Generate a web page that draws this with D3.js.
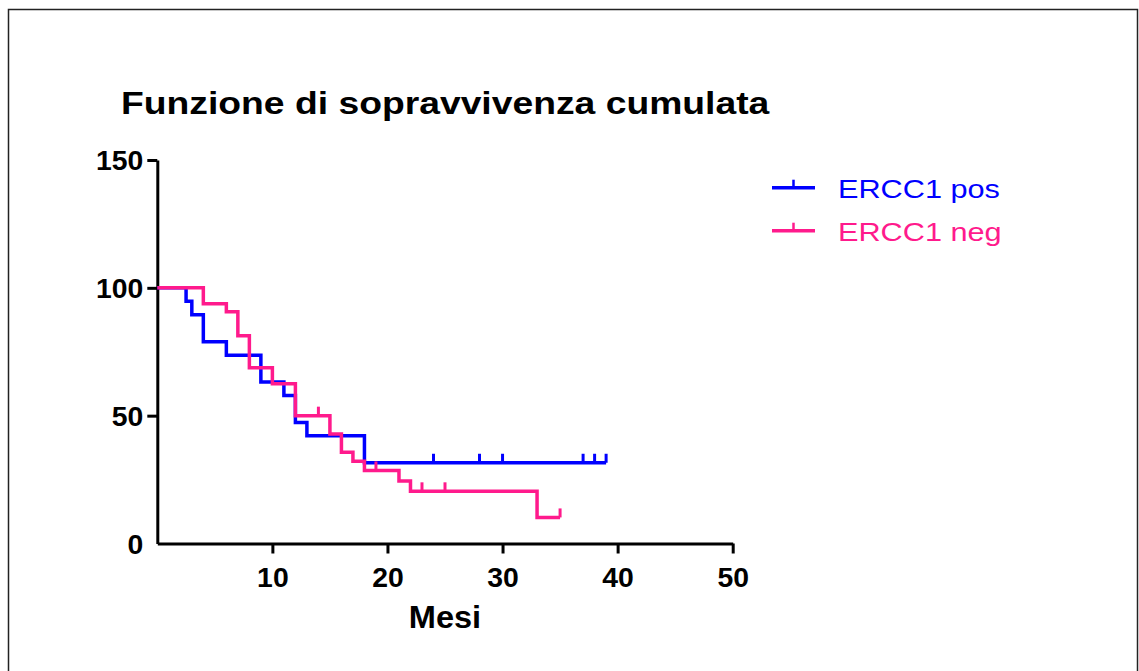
<!DOCTYPE html>
<html>
<head>
<meta charset="utf-8">
<script src="https://cdnjs.cloudflare.com/ajax/libs/d3/7.8.5/d3.min.js"></script>
<style>
  body { margin: 0; background: #fff; }
  svg { display: block; }
  text { font-family: "Liberation Sans", Arial, sans-serif; }
</style>
</head>
<body>
<div id="chart"></div>
<script>
// Kaplan-Meier steps (months, % survival)
var posTime = [0, 2.5, 3, 4, 6, 9, 11, 12, 13, 18, 39]
var posSurv = [100, 94.74, 89.47, 78.95, 73.68, 63.16, 57.89, 47.37, 42.11, 31.58, 31.58]
var posCensored = [24, 28, 30, 37, 38, 39]

var negTime = [0, 4, 6, 7, 8, 10, 12, 15, 16, 17, 18, 21, 22, 33, 35]
var negSurv = [100, 93.75, 90.63, 81.25, 68.75, 62.5, 50, 42.86, 35.71, 32.14, 28.57, 24.49, 20.41, 10.2, 10.2]
var negCensored = [14, 19, 23, 25, 35]

var seriesNames = ["ERCC1 pos", "ERCC1 neg"]
var seriesColors = ["#0000ff", "#ff1a8c"]
var xTicks = [10, 20, 30, 40, 50]
var yTicks = [0, 50, 100, 150]

var width = 1139
var height = 671

function make_series(times, surv, censored) {
    var points = times.map((t, i) => { return {"t": t, "s": surv[i]} })
    var marks = censored.map((c) => {
        var s = surv[0]
        times.forEach((t, i) => { if (t <= c) s = surv[i] })
        return {"t": c, "s": s}
    })
    return {"points": points, "marks": marks}
}

function create_vis() {
    var svg = d3.select("#chart")
        .append("svg")
        .attr("width", width)
        .attr("height", height)

    // frame round the picture
    svg.append("rect")
        .attr("x", 8.5).attr("y", 9.5)
        .attr("width", 1129).attr("height", 700)
        .attr("fill", "none")
        .attr("stroke", "#222")
        .attr("stroke-width", 1.5)

    var x = d3.scaleLinear().domain([0, 50]).range([157.3, 732.7])
    var y = d3.scaleLinear().domain([0, 150]).range([543.5, 160])

    var series = [
        make_series(posTime, posSurv, posCensored),
        make_series(negTime, negSurv, negCensored)
    ]

    // y axis
    var gy = svg.append("g")
        .attr("transform", "translate(" + x(0) + ",0)")
        .call(d3.axisLeft(y).tickValues(yTicks).tickSize(10).tickSizeOuter(0).tickPadding(5))
    gy.select(".domain").attr("stroke", "#000").attr("stroke-width", 3)
    gy.selectAll(".tick line").attr("stroke", "#000").attr("stroke-width", 3)
        .filter((d) => d === 0).remove()
    gy.selectAll(".tick text")
        .attr("font-size", 27).attr("font-weight", "bold").attr("fill", "#000")
        .attr("transform", "translate(-14,1) scale(1.05,1)").attr("x", 0)

    // x axis
    var gx = svg.append("g")
        .attr("transform", "translate(0," + y(0) + ")")
        .call(d3.axisBottom(x).tickValues(xTicks).tickSize(10).tickSizeOuter(0))
    gx.select(".domain").attr("stroke", "#000").attr("stroke-width", 3)
    gx.selectAll(".tick line").attr("stroke", "#000").attr("stroke-width", 3)
    gx.selectAll(".tick text")
        .attr("font-size", 27).attr("font-weight", "bold").attr("fill", "#000")
        .attr("transform", "translate(0,43) scale(1.05,1)").attr("y", 0).attr("dy", 0)

    svg.append("text")
        .attr("transform", "translate(" + (x(0) + x(50)) / 2 + ",628) scale(1.05,1)")
        .attr("text-anchor", "middle")
        .attr("font-size", 31).attr("font-weight", "bold")
        .text("Mesi")

    svg.append("text")
        .attr("transform", "translate(121,114) scale(1.165,1)")
        .attr("font-size", 32).attr("font-weight", "bold")
        .text("Funzione di sopravvivenza cumulata")

    var line = d3.line()
        .x((d) => x(d.t))
        .y((d) => y(d.s))
        .curve(d3.curveStepAfter)

    series.forEach((d, i) => {
        var g = svg.append("g")
        g.append("path")
            .attr("d", line(d.points))
            .attr("fill", "none")
            .attr("stroke", seriesColors[i])
            .attr("stroke-width", 3.5)
        g.selectAll("line")
            .data(d.marks)
            .enter()
            .append("line")
            .attr("x1", (m) => x(m.t)).attr("x2", (m) => x(m.t))
            .attr("y1", (m) => y(m.s)).attr("y2", (m) => y(m.s) - 9)
            .attr("stroke", seriesColors[i])
            .attr("stroke-width", 3)
    })

    // legend
    var legend = svg.append("g")
    seriesNames.forEach((name, i) => {
        var ly = 187.7 + i * 43
        legend.append("line")
            .attr("x1", 772).attr("x2", 815)
            .attr("y1", ly).attr("y2", ly)
            .attr("stroke", seriesColors[i]).attr("stroke-width", 3.5)
        legend.append("line")
            .attr("x1", 793.5).attr("x2", 793.5)
            .attr("y1", ly).attr("y2", ly - 8)
            .attr("stroke", seriesColors[i]).attr("stroke-width", 2.5)
        legend.append("text")
            .attr("transform", "translate(838," + (ly + 10.5) + ") scale(1.18,1)")
            .attr("font-size", 26)
            .attr("fill", seriesColors[i])
            .text(name)
    })
}

create_vis()
</script>
</body>
</html>
